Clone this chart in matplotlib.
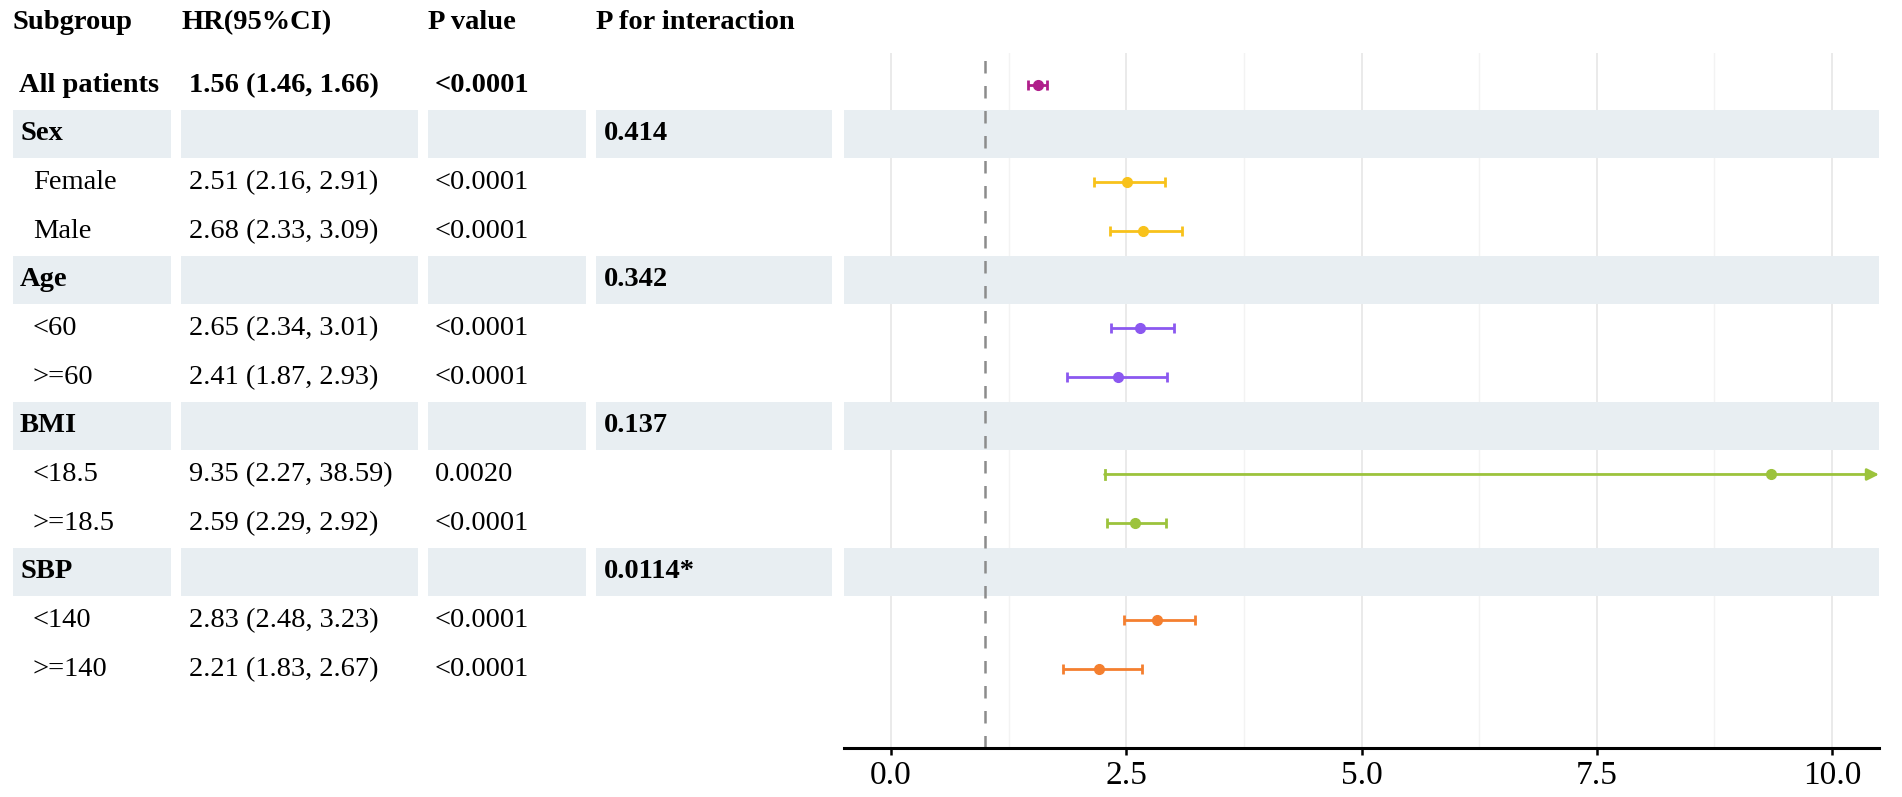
import numpy as np
import matplotlib
matplotlib.use("Agg")
import matplotlib.pyplot as plt
from matplotlib import transforms
from matplotlib.patches import Rectangle

plt.rcParams['font.family'] = ['Liberation Serif', 'DejaVu Serif']

# table rows, top to bottom
labels = ["All patients", "Sex", "Female", "Male", "Age", "<60", ">=60",
          "BMI", "<18.5", ">=18.5", "SBP", "<140", ">=140"]
is_group = [False, True, False, False, True, False, False,
            True, False, False, True, False, False]
hr = [1.56, np.nan, 2.51, 2.68, np.nan, 2.65, 2.41, np.nan, 9.35, 2.59, np.nan, 2.83, 2.21]
lo = [1.46, np.nan, 2.16, 2.33, np.nan, 2.34, 1.87, np.nan, 2.27, 2.29, np.nan, 2.48, 1.83]
hi = [1.66, np.nan, 2.91, 3.09, np.nan, 3.01, 2.93, np.nan, 38.59, 2.92, np.nan, 3.23, 2.67]
p_value = ["<0.0001", "", "<0.0001", "<0.0001", "", "<0.0001", "<0.0001",
           "", "0.0020", "<0.0001", "", "<0.0001", "<0.0001"]
p_inter = ["", "0.414", "", "", "0.342", "", "", "0.137", "", "", "0.0114*", "", ""]
colors = ["#b01f8b", None, "#f8c21b", "#f8c21b", None, "#8b58f0", "#8b58f0",
          None, "#9cc33c", "#9cc33c", None, "#f47f2f", "#f47f2f"]
headers = ["Subgroup", "HR(95%CI)", "P value", "P for interaction"]

xticks = [0.0, 2.5, 5.0, 7.5, 10.0]
xlim = (-0.5, 10.5)
ref_line = 1

W, H = 1902, 797
band_color = "#e8eef2"
fs = 20.5

fig = plt.figure(figsize=(W / 100, H / 100), dpi=100)
ax = fig.add_axes([844 / W, 49 / H, 1035 / W, 695 / H])
ax.set_xlim(*xlim)
ax.set_ylim(13.62, -0.66)

# grid
ax.set_xticks(xticks)
ax.set_xticks([1.25, 3.75, 6.25, 8.75], minor=True)
ax.grid(True, axis='x', which='major', color='#e6e6e6', lw=1.2, zorder=0)
ax.grid(True, axis='x', which='minor', color='#f3f3f3', lw=1.0, zorder=0)
ax.set_axisbelow(True)
ax.set_yticks([])
for s in ['left', 'right', 'top']:
    ax.spines[s].set_visible(False)
ax.spines['bottom'].set_linewidth(2.2)
ax.tick_params(axis='x', which='major', length=5, width=1.8, pad=4, labelsize=24)
ax.tick_params(axis='x', which='minor', length=0)
ax.set_xticklabels([f"{t:.1f}" for t in xticks])

blend = transforms.blended_transform_factory(fig.transFigure, ax.transData)
col_bands = [(13, 171), (181, 418), (428, 586), (596, 832)]
text_x_head = [13, 182, 428, 596]

# header
y_head = -1.29
for x, h in zip(text_x_head, headers):
    fig.text(x / W, y_head, h, transform=blend, fontsize=fs, fontweight='bold',
             va='center', ha='left')

for i, lab in enumerate(labels):
    if is_group[i]:
        for x0, x1 in col_bands:
            ax.add_patch(Rectangle((x0 / W, i - 0.49), (x1 - x0) / W, 0.98,
                                   transform=blend, color=band_color,
                                   clip_on=False, zorder=1, lw=0))
        ax.axhspan(i - 0.49, i + 0.49, color=band_color, zorder=1, lw=0)
        fig.text(20 / W, i, lab, transform=blend, fontsize=fs, fontweight='bold',
                 va='center')
        fig.text(604 / W, i, p_inter[i], transform=blend, fontsize=fs,
                 fontweight='bold', va='center')
        continue
    bold = (i == 0)
    fw = 'bold' if bold else 'normal'
    fig.text((19 if bold else 33) / W, i, lab, transform=blend, fontsize=fs,
             fontweight=fw, va='center')
    fig.text(189 / W, i, f"{hr[i]:.2f} ({lo[i]:.2f}, {hi[i]:.2f})", transform=blend,
             fontsize=fs, fontweight=fw, va='center')
    fig.text(435 / W, i, p_value[i], transform=blend, fontsize=fs,
             fontweight=fw, va='center')

    c = colors[i]
    if hi[i] > xlim[1]:
        # upper limit off the scale -> arrow
        ax.annotate('', xy=(xlim[1], i), xytext=(lo[i], i),
                    arrowprops=dict(arrowstyle='-|>,head_length=0.7,head_width=0.35',
                                    color=c, lw=2, shrinkA=0, shrinkB=0),
                    zorder=3)
        ax.plot([lo[i], lo[i]], [i - 0.1, i + 0.1], color=c, lw=2, zorder=3)
        ax.plot(hr[i], i, 'o', color=c, ms=7, zorder=4)
    else:
        ax.errorbar(hr[i], i, xerr=[[hr[i] - lo[i]], [hi[i] - lo[i] - (hr[i] - lo[i])]],
                    fmt='o', color=c, ms=7, elinewidth=2, capsize=3.6,
                    capthick=2, zorder=3)

ax.axvline(ref_line, color='#8c8c8c', lw=1.8, dashes=(5, 5), zorder=2)

fig.savefig("out.png", dpi=100)
